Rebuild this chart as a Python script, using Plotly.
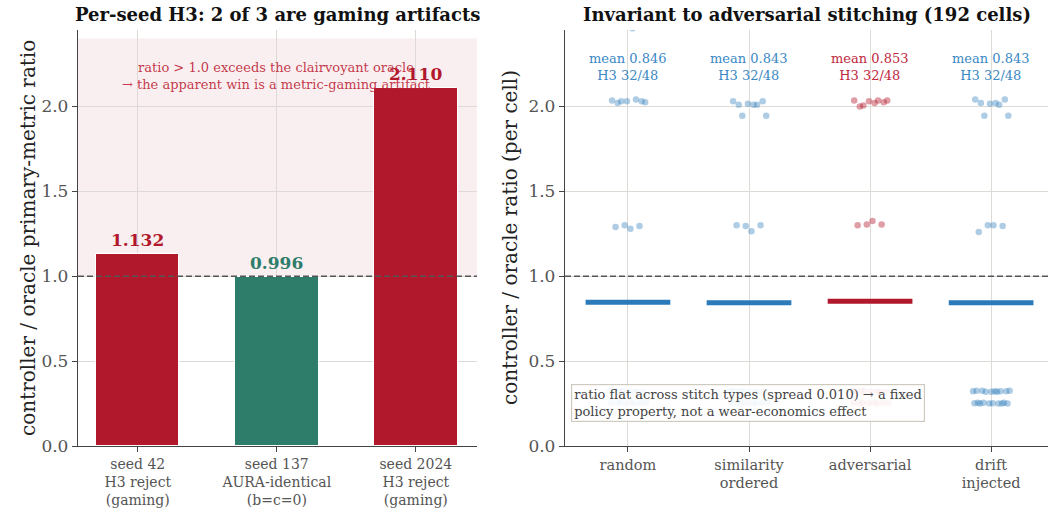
import plotly.graph_objects as go

# ---- per-seed H3 ratios (left panel) ----
seed_labels = ["seed 42<br>H3 reject<br>(gaming)",
               "seed 137<br>AURA-identical<br>(b=c=0)",
               "seed 2024<br>H3 reject<br>(gaming)"]
seed_ratios = [1.132, 0.996, 2.110]
seed_gaming = [True, False, True]

# ---- per-cell ratios by stitch type (right panel) ----
stitch_types = ["random", "similarity<br>ordered", "adversarial", "drift<br>injected"]
stitch_means = [0.846, 0.843, 0.853, 0.843]
h3_pass = [32, 32, 32, 32]
n_cells = 48
highlight = "adversarial"
oracle_ratio = 1.0

random_cells = [2.46, 2.02, 2.03, 2.03, 2.035, 2.04, 2.03, 2.025,
                1.28, 1.29, 1.295, 1.30,
                0.325, 0.32, 0.325, 0.32, 0.32, 0.325, 0.32, 0.325,
                0.255, 0.255, 0.25, 0.255, 0.25, 0.255, 0.25, 0.255]
similarity_cells = [2.01, 2.01, 2.03, 2.015, 2.03, 2.01, 1.945, 1.945,
                    1.265, 1.30, 1.30, 1.295,
                    0.325, 0.32, 0.325, 0.32, 0.32, 0.325, 0.32, 0.325,
                    0.255, 0.255, 0.25, 0.255, 0.25, 0.255, 0.25, 0.255]
adversarial_cells = [2.02, 2.0, 2.025, 2.03, 2.035, 2.035, 2.005, 2.035,
                     1.325, 1.30, 1.305, 1.305,
                     0.325, 0.32, 0.325, 0.32, 0.32, 0.325, 0.32, 0.325,
                     0.255, 0.255, 0.25, 0.255, 0.25, 0.255, 0.25, 0.255]
drift_cells = [2.02, 2.02, 2.04, 2.015, 2.04, 2.01, 1.945, 1.945,
               1.30, 1.26, 1.295, 1.30,
               0.322, 0.32, 0.325, 0.322, 0.32, 0.325, 0.322, 0.32, 0.325, 0.322,
               0.25, 0.255, 0.25, 0.252, 0.25, 0.255, 0.25, 0.252, 0.255, 0.25]
cells_by_type = [random_cells, similarity_cells, adversarial_cells, drift_cells]

FONT = "DejaVu Serif"
RED = "#b2182b"
TEAL = "#2e7d6b"
BLUE = "#2b7bba"
GRID = "#dedbd6"
AXIS = "#444444"
TICKTXT = "#555555"

LEFT_DOM = [78 / 1050, 477 / 1050]
RIGHT_DOM = [565 / 1050, 1048 / 1050]
LEFT_X = [-0.43, 2.44]
RIGHT_X = [-0.52, 3.47]
DASH = dict(color="#555555", width=1.6, dash="6px,3px")

fig = go.Figure()

# oracle reference (drawn first so the bars sit on top of it)
fig.add_trace(go.Scatter(x=LEFT_X, y=[oracle_ratio] * 2, mode="lines", line=DASH,
                         xaxis="x", yaxis="y", showlegend=False, hoverinfo="skip"))
fig.add_trace(go.Scatter(x=RIGHT_X, y=[oracle_ratio] * 2, mode="lines", line=DASH,
                         xaxis="x2", yaxis="y2", showlegend=False, hoverinfo="skip"))

# left: bars
fig.add_trace(go.Bar(
    x=list(range(len(seed_ratios))), y=seed_ratios, width=0.6,
    marker=dict(color=[RED if g else TEAL for g in seed_gaming],
                line=dict(color="white", width=1)),
    xaxis="x", yaxis="y", showlegend=False, hoverinfo="skip"))

for i, (v, g) in enumerate(zip(seed_ratios, seed_gaming)):
    fig.add_annotation(x=i, y=v, xref="x", yref="y", text=f"<b>{v:.3f}</b>",
                       showarrow=False, yanchor="bottom", yshift=2,
                       font=dict(family=FONT, size=17, color=RED if g else TEAL))

# right: jittered per-cell points and mean bars
for k, (name, cells, m, p) in enumerate(zip(stitch_types, cells_by_type, stitch_means, h3_pass)):
    hot = name == highlight
    base = RED if hot else BLUE
    pt = "rgba(178,24,43,0.42)" if hot else "rgba(43,123,186,0.38)"
    jitter = [0.32 * (((j + 1) * 0.6180339887) % 1 - 0.5) for j in range(len(cells))]
    fig.add_trace(go.Scatter(
        x=[k + d for d in jitter], y=cells, mode="markers",
        marker=dict(size=6.5, color=pt, line=dict(width=0)),
        xaxis="x2", yaxis="y2", showlegend=False, hoverinfo="skip"))
    fig.add_trace(go.Scatter(
        x=[k - 0.35, k + 0.35], y=[m, m], mode="lines",
        line=dict(color=base, width=5),
        xaxis="x2", yaxis="y2", showlegend=False, hoverinfo="skip"))
    fig.add_annotation(x=k, y=2.235, xref="x2", yref="y2",
                       text=f"mean {m:.3f}<br>H3 {p}/{n_cells}", showarrow=False,
                       font=dict(family=FONT, size=13,
                                 color="#c0283e" if hot else "#3a88c4"))

# shading for ratio > 1
fig.add_shape(type="rect", xref="x domain", yref="y", x0=0, x1=1, y0=oracle_ratio, y1=2.4,
              fillcolor="rgba(178,24,43,0.07)", line=dict(width=0), layer="below")

fig.add_annotation(x=1, y=2.18, xref="x", yref="y",
                   text="ratio > 1.0 exceeds the clairvoyant oracle<br>→ the apparent win is a metric-gaming artifact",
                   showarrow=False, font=dict(family=FONT, size=13, color="rgba(190,30,55,0.9)"))

fig.add_annotation(x=0.012, y=0.058, xref="x2 domain", yref="y2 domain",
                   xanchor="left", yanchor="bottom", align="left",
                   text="ratio flat across stitch types (spread 0.010) → a fixed<br>policy property, not a wear-economics effect",
                   showarrow=False, bgcolor="rgba(255,255,255,0.9)",
                   bordercolor="#cfcabf", borderwidth=1.2, borderpad=2,
                   font=dict(family=FONT, size=13, color="#444444"))

# panel titles and axis titles
fig.add_annotation(x=sum(LEFT_DOM) / 2, y=1 - 14 / 512, xref="paper", yref="paper",
                   xanchor="center", yanchor="middle",
                   text="<b>Per-seed H3: 2 of 3 are gaming artifacts</b>", showarrow=False,
                   font=dict(family=FONT, size=18, color="#111111"))
fig.add_annotation(x=sum(RIGHT_DOM) / 2, y=1 - 14 / 512, xref="paper", yref="paper",
                   xanchor="center", yanchor="middle",
                   text="<b>Invariant to adversarial stitching (192 cells)</b>", showarrow=False,
                   font=dict(family=FONT, size=18, color="#111111"))
fig.add_annotation(x=28 / 1050, y=1 - 238 / 512, xref="paper", yref="paper", textangle=-90,
                   xanchor="center", yanchor="middle",
                   text="controller / oracle primary-metric ratio", showarrow=False,
                   font=dict(family=FONT, size=20, color="#222222"))
fig.add_annotation(x=510 / 1050, y=1 - 238 / 512, xref="paper", yref="paper", textangle=-90,
                   xanchor="center", yanchor="middle",
                   text="controller / oracle ratio (per cell)", showarrow=False,
                   font=dict(family=FONT, size=20, color="#222222"))

common_x = dict(showgrid=True, gridcolor=GRID, gridwidth=1, zeroline=False,
                showline=True, linecolor=AXIS, linewidth=1.3, ticks="outside",
                ticklen=5, tickcolor=AXIS, tickmode="array", fixedrange=True,
                automargin=False)
ytickvals = [0, 0.5, 1.0, 1.5, 2.0]
common_y = dict(showgrid=True, gridcolor=GRID, gridwidth=1, zeroline=False,
                showline=True, linecolor=AXIS, linewidth=1.3, ticks="outside",
                ticklen=5, tickcolor=AXIS, range=[0, 2.45], automargin=False,
                tickvals=ytickvals, ticktext=[f"{t:.1f}" for t in ytickvals],
                tickfont=dict(family=FONT, size=17, color=TICKTXT),
                domain=[1 - 446 / 512, 1 - 30 / 512])

fig.update_layout(
    width=1050, height=512, margin=dict(l=0, r=0, t=0, b=0, autoexpand=False),
    paper_bgcolor="white", plot_bgcolor="white", bargap=0,
    xaxis=dict(common_x, domain=LEFT_DOM, range=LEFT_X,
               tickvals=list(range(len(seed_labels))), ticktext=seed_labels,
               tickfont=dict(family=FONT, size=14, color=TICKTXT), anchor="y"),
    yaxis=dict(common_y, anchor="x"),
    xaxis2=dict(common_x, domain=RIGHT_DOM, range=RIGHT_X,
                tickvals=list(range(len(stitch_types))), ticktext=stitch_types,
                tickfont=dict(family=FONT, size=14.5, color=TICKTXT), anchor="y2"),
    yaxis2=dict(common_y, anchor="x2"),
)

fig.write_html("out.html")
